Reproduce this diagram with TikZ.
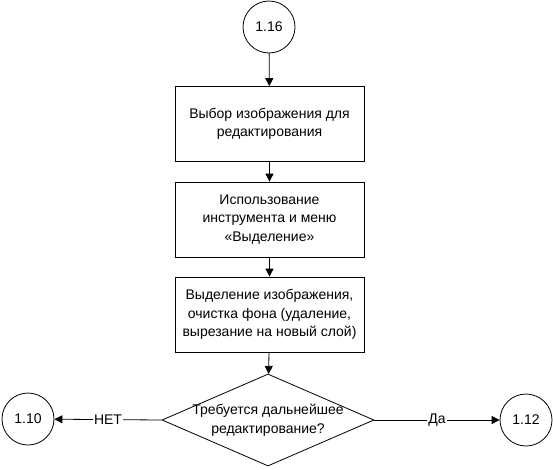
\documentclass[tikz,border=0pt]{standalone}
\usepackage{fontspec}
\setmainfont{Liberation Sans}
\usetikzlibrary{arrows.meta,shapes.geometric}

\begin{document}
\begin{tikzpicture}[x=1pt,y=-1pt,line width=0.8pt,
    txt/.style={align=center, font=\fontsize{14}{18.5}\selectfont},
    blk/.style={draw, txt, minimum width=189pt, minimum height=75pt},
    conn/.style={draw, circle, minimum size=52pt, inner sep=0pt, font=\fontsize{14}{16}\selectfont},
    cond/.style={draw, diamond, minimum width=212pt, minimum height=92pt, inner sep=0pt},
    arr/.style={-{Triangle[length=8pt,width=8pt]}},
    lbl/.style={fill=white, inner sep=1pt, font=\fontsize{14}{16}\selectfont}]
                        \useasboundingbox (0,0) rectangle (553,469);
                        \node[conn] (c116) at (269,27) {1.16};
                        \node[blk] (b1) at (269.5,124) {Выбор изображения для\\редактирования};
                        \node[blk] (b2) at (269.5,219.5) {Использование\\инструмента и меню\\«Выделение»};
                        \node[blk] (b3) at (269.5,314.5) {Выделение изображения,\\очистка фона (удаление,\\вырезание на новый слой)};
                        \node[cond] (d1) at (268,420) {};
                        \node[txt] (d1t) at (d1.center) {Требуется дальнейшее\\редактирование?};
                        \node[conn] (c110) at (28,419) {1.10};
                        \node[conn] (c112) at (526,420) {1.12};

                        \draw[arr] (c116) -- (b1);
                        \draw[arr] (b1) -- (b2);
                        \draw[arr] (b2) -- (b3);
                        \draw[arr] (b3) -- (d1);
                        \draw[arr] (d1.west) -- node[lbl] {НЕТ} (c110);
                        \draw[arr] (d1.east) -- node[lbl] {Да} (c112);
                    \end{tikzpicture}
\end{document}
